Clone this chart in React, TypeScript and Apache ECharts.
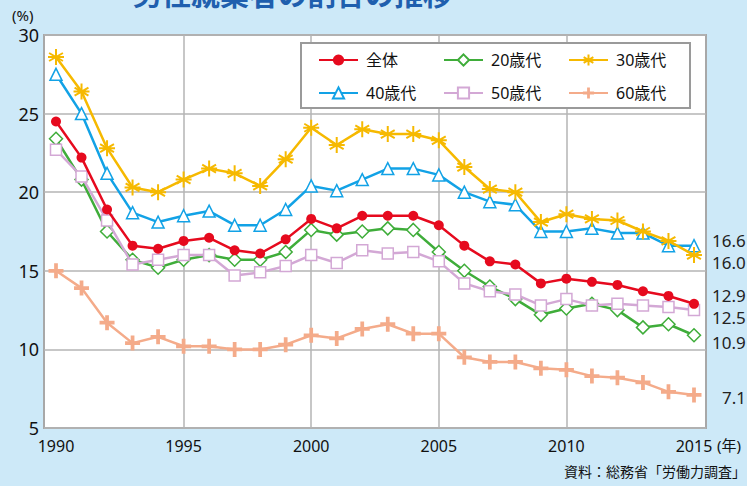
import React, { useEffect, useRef } from "react";
import * as echarts from "echarts";

const years = [1990, 1991, 1992, 1993, 1994, 1995, 1996, 1997, 1998, 1999, 2000, 2001, 2002, 2003, 2004, 2005, 2006, 2007, 2008, 2009, 2010, 2011, 2012, 2013, 2014, 2015];
const total = [24.5, 22.2, 18.9, 16.6, 16.4, 16.9, 17.1, 16.3, 16.1, 17.0, 18.3, 17.7, 18.5, 18.5, 18.5, 17.9, 16.6, 15.6, 15.4, 14.2, 14.5, 14.3, 14.1, 13.7, 13.4, 12.9];
const age20 = [23.4, 20.8, 17.5, 15.7, 15.2, 15.7, 16.0, 15.7, 15.7, 16.2, 17.6, 17.3, 17.5, 17.7, 17.6, 16.2, 15.0, 14.0, 13.2, 12.2, 12.6, 12.9, 12.5, 11.4, 11.6, 10.9];
const age30 = [28.6, 26.4, 22.8, 20.3, 20.0, 20.8, 21.5, 21.2, 20.4, 22.1, 24.1, 23.0, 24.0, 23.7, 23.7, 23.3, 21.6, 20.2, 20.0, 18.1, 18.6, 18.3, 18.2, 17.5, 16.9, 16.0];
const age40 = [27.5, 25.0, 21.2, 18.7, 18.1, 18.5, 18.8, 17.9, 17.9, 18.9, 20.4, 20.1, 20.8, 21.5, 21.5, 21.1, 20.0, 19.4, 19.2, 17.5, 17.5, 17.7, 17.4, 17.4, 16.6, 16.6];
const age50 = [22.7, 21.0, 18.2, 15.4, 15.7, 16.0, 16.0, 14.7, 14.9, 15.3, 16.0, 15.5, 16.3, 16.1, 16.2, 15.6, 14.2, 13.7, 13.5, 12.8, 13.2, 12.8, 12.9, 12.8, 12.7, 12.5];
const age60 = [15.0, 13.9, 11.7, 10.4, 10.8, 10.2, 10.2, 10.0, 10.0, 10.3, 10.9, 10.7, 11.3, 11.6, 11.0, 11.0, 9.5, 9.2, 9.2, 8.8, 8.7, 8.3, 8.2, 7.9, 7.3, 7.1];

const seriesNames = ["全体", "20歳代", "30歳代", "40歳代", "50歳代", "60歳代"];
const yTicks = [5, 10, 15, 20, 25, 30];
const title = "男性就業者の割合の推移";
const source = "資料：総務省「労働力調査」";

const FONT = "'Noto Sans', 'Noto Sans CJK JP', sans-serif";

const ASTERISK = "path://M10,0L10,20M1.34,5L18.66,15M1.34,15L18.66,5M0,10L20,10";
const PLUS = "path://M6,0H10V6H16V10H10V16H6V10H0V6H6Z";

export default function App() {
  const ref = useRef<HTMLDivElement>(null);
  useEffect(() => {
    if (!ref.current) return;
    const chart = echarts.init(ref.current, null, { renderer: "svg" });
    const pairs = (arr: number[]) => years.map((y, i) => [y, arr[i]]);
    const mk = (
      name: string,
      arr: number[],
      color: string,
      symbol: string,
      size: number,
      fill: string,
      border: number,
      labelDist: number,
      labelDy: number,
      z: number
    ) => ({
      name,
      type: "line",
      xAxisIndex: 1,
      yAxisIndex: 1,
      data: pairs(arr),
      symbol,
      symbolSize: size,
      showAllSymbol: true,
      z,
      lineStyle: { color, width: 2.5 },
      itemStyle: { color: fill, borderColor: color, borderWidth: border },
      emphasis: { disabled: true },
      endLabel: {
        show: true,
        position: "right",
        distance: labelDist,
        offset: [0, labelDy],
        formatter: (p: any) => Number(p.value[1]).toFixed(1),
        color: "#222",
        fontSize: 17,
        fontFamily: FONT,
      },
    });

    const legendPos = [
      [318, 52],
      [443, 52],
      [568, 52],
      [318, 85],
      [443, 85],
      [568, 85],
    ];

    chart.setOption({
      animation: false,
      backgroundColor: "#cde9f8",
      textStyle: { fontFamily: FONT },
      grid: [
        { left: 44, right: 41, top: 35, bottom: 58, show: true, backgroundColor: "#fff", borderColor: "#a8a8a8", borderWidth: 2 },
        { left: 56, right: 53, top: 35, bottom: 58 },
      ],
      xAxis: [
        { gridIndex: 0, type: "value", min: 0, max: 1, show: false },
        {
          gridIndex: 1,
          type: "value",
          min: 1990,
          max: 2015,
          interval: 5,
          axisLine: { show: false },
          axisTick: { show: false },
          axisLabel: { color: "#111", fontSize: 16, margin: 10, fontFamily: FONT, formatter: (v: number) => String(v) },
          splitLine: { show: true, showMinLine: false, showMaxLine: false, lineStyle: { color: "#b4b4b4", width: 1.5 } },
        },
      ],
      yAxis: [
        {
          gridIndex: 0,
          type: "value",
          min: 5,
          max: 30,
          interval: 5,
          axisLine: { show: false },
          axisTick: { show: false },
          axisLabel: {
            color: "#111",
            fontSize: 18,
            margin: 5,
            fontFamily: FONT,
            customValues: yTicks,
          },
          splitLine: { show: true, lineStyle: { color: "#b4b4b4", width: 1.5 } },
        },
        { gridIndex: 1, type: "value", min: 5, max: 30, interval: 5, show: false },
      ],
      legend: seriesNames.map((n, i) => ({
        data: [n],
        left: legendPos[i][0],
        top: legendPos[i][1],
        padding: 0,
        itemWidth: 39,
        itemHeight: 14,
        selectedMode: false,
        z: 5,
        textStyle: { fontSize: 16, color: "#111", fontFamily: FONT, padding: [0, 0, 0, 3] },
      })),
      graphic: [
        {
          type: "rect",
          z: 3,
          shape: { x: 301, y: 43, width: 389, height: 65 },
          style: { fill: "#fff", stroke: "#9a9a9a", lineWidth: 2 },
        },
        {
          type: "text",
          x: 133,
          y: 9,
          style: { text: title, fill: "#1f5fae", font: `bold 29px ${FONT}`, verticalAlign: "bottom" },
        },
        {
          type: "text",
          x: 12,
          y: 15,
          style: { text: "(%)", fill: "#111", font: `15px ${FONT}`, verticalAlign: "middle" },
        },
        {
          type: "text",
          x: 717,
          y: 445,
          style: { text: "(年)", fill: "#111", font: `15px ${FONT}`, verticalAlign: "middle" },
        },
        {
          type: "text",
          x: 746,
          y: 471,
          style: { text: source, fill: "#111", font: `14px ${FONT}`, align: "right", verticalAlign: "middle" },
        },
      ],
      series: [
        mk("60歳代", age60, "#f4ab8a", PLUS, 15, "#f4ab8a", 0, 28, 3, 2),
        mk("20歳代", age20, "#3fad3a", "diamond", 13, "#fff", 1.5, 18, 7, 3),
        mk("50歳代", age50, "#d3a8d5", "rect", 11, "#fff", 1.5, 18, 7, 4),
        mk("40歳代", age40, "#12a2e6", "triangle", 12, "#fff", 1.5, 18, -5, 5),
        mk("30歳代", age30, "#f6b900", ASTERISK, 16, "#f6b900", 2, 18, 7, 6),
        mk("全体", total, "#e60a1e", "circle", 10, "#e60a1e", 0, 18, -8, 7),
      ],
    });
    return () => chart.dispose();
  }, []);
  return <div ref={ref} style={{ width: 747, height: 486, position: "absolute", left: 0, top: 0 }} />;
}
